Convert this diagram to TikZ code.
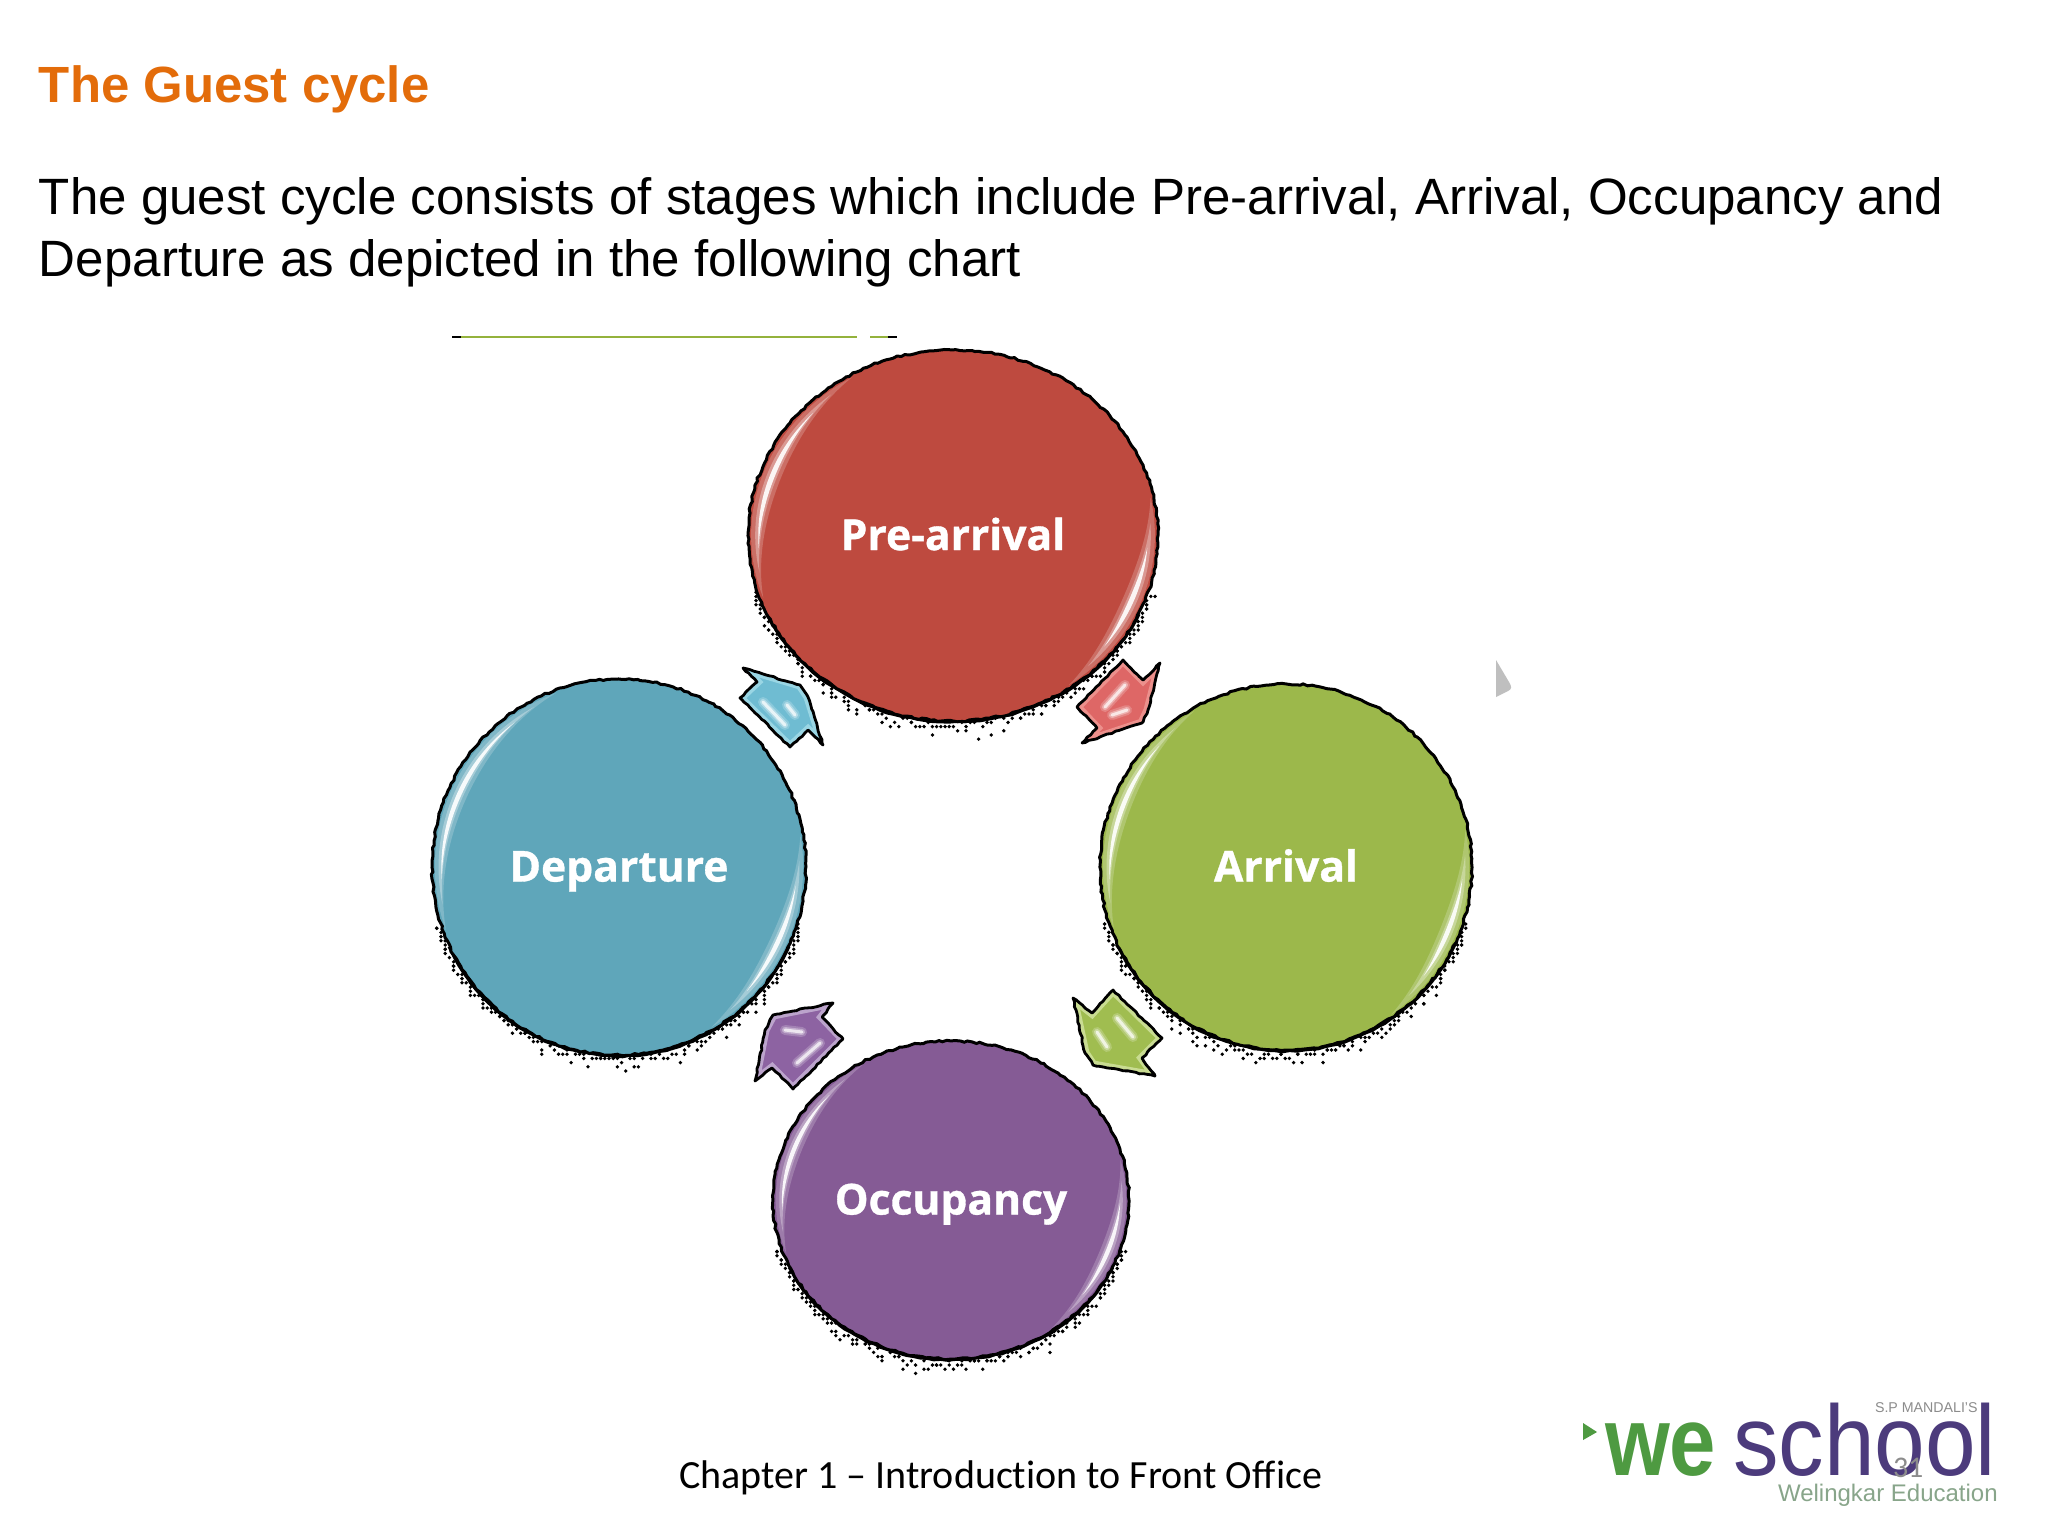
\documentclass[tikz,border=0pt]{standalone}
\usepackage{fontspec}
\setmainfont{Liberation Sans}
\newfontfamily\carl[Ligatures=NoCommon]{Carlito}
\newfontfamily\stagefont[BoldFeatures={FakeBold=0.8}]{Open Sans}
\usetikzlibrary{shapes.geometric,decorations.pathmorphing}
\definecolor{orangetitle}{HTML}{E36C0A}
\definecolor{redb}{HTML}{BE4A3F}\definecolor{redr}{HTML}{E8988E}
\definecolor{greenb}{HTML}{9CB84B}\definecolor{greenr}{HTML}{CFE09A}
\definecolor{blueb}{HTML}{5FA6BA}\definecolor{bluer}{HTML}{A4D8E6}
\definecolor{purpb}{HTML}{855B95}\definecolor{purpr}{HTML}{C4ACD2}
\definecolor{arblue}{HTML}{6FBCD2}\definecolor{arbluer}{HTML}{9AD6E4}
\definecolor{arred}{HTML}{DE6766}\definecolor{arredr}{HTML}{EC908C}
\definecolor{argreen}{HTML}{A0BD50}\definecolor{argreenr}{HTML}{C9DC92}
\definecolor{arpurp}{HTML}{8D63A2}\definecolor{arpurpr}{HTML}{BCA4CC}
\definecolor{weGreen}{HTML}{4E9A41}\definecolor{schoolPurple}{HTML}{4C3B7C}
\definecolor{rulegreen}{HTML}{94B23C}\definecolor{welGrey}{HTML}{88A58A}
\pgfdeclareradialshading{redsh}{\pgfpoint{0bp}{0bp}}{color(0bp)=(redb);color(45.5bp)=(redb);color(50bp)=(redr)}
\pgfdeclareradialshading{greensh}{\pgfpoint{0bp}{0bp}}{color(0bp)=(greenb);color(45.5bp)=(greenb);color(50bp)=(greenr)}
\pgfdeclareradialshading{bluesh}{\pgfpoint{0bp}{0bp}}{color(0bp)=(blueb);color(45.5bp)=(blueb);color(50bp)=(bluer)}
\pgfdeclareradialshading{purpsh}{\pgfpoint{0bp}{0bp}}{color(0bp)=(purpb);color(45.5bp)=(purpb);color(50bp)=(purpr)}
\tikzset{
  x=0.5pt,y=-0.5pt,
  stage/.style={ellipse,inner sep=0pt,draw=black,line width=1.5pt,shade,
    decorate,decoration={random steps,segment length=2pt,amplitude=0.45pt},
    text=white,font=\stagefont\bfseries\fontsize{21.3}{24}\selectfont,
    text height=16pt,text depth=1.5pt},
  rough/.style={draw=black,line width=1.4pt,line join=round,
    decorate,decoration={random steps,segment length=2pt,amplitude=0.35pt}},
  txt/.style={anchor=base west,inner sep=0pt,outer sep=0pt},
}
% tapered crescent: cx cy rx ry from to k w opacity
\newcommand\crescent[9]{%
  \fill[white,opacity=#9]
    plot[domain=#5:#6,samples=40] ({#1+#3*#7*cos(\x)},{#2+#4*#7*sin(\x)})
    -- plot[domain=#6:#5,samples=40]
      ({#1+#3*(#7-#8*sin(180*(\x-(#5))/(#6-(#5))))*cos(\x)},{#2+#4*(#7-#8*sin(180*(\x-(#5))/(#6-(#5))))*sin(\x)})
    -- cycle;}
% glint along a stage rim: cx cy rx ry from to
\newcommand\glint[6]{%
  \pgfmathsetmacro\ga{#5+8}\pgfmathsetmacro\gb{#6-8}%
  \pgfmathsetmacro\gc{#5+16}\pgfmathsetmacro\gd{#6-16}%
  \crescent{#1}{#2}{#3}{#4}{#5}{#6}{.985}{.09}{.2}%
  \crescent{#1}{#2}{#3}{#4}{\ga}{\gb}{.965}{.05}{.3}%
  \crescent{#1}{#2}{#3}{#4}{\gc}{\gd}{.95}{.024}{.9}%
}
% specks (on a 4.2 px grid) and heavier outline under a stage rim: cx cy rx ry seed
\newcommand\speck[5]{%
  \pgfmathsetseed{#5}%
  \foreach \a in {18,19,...,162}{%
    \pgfmathsetmacro\d{3+rnd*rnd*17*(0.15+0.85*sin(\a)*sin(\a))}%
    \pgfmathsetmacro\px{round((#1+(#3+\d)*cos(\a))/4.2)*4.2}%
    \pgfmathsetmacro\py{round((#2+(#4+\d)*sin(\a))/4.2)*4.2}%
    \fill[black] (\px,\py) circle (1.9);
  }%
  \draw[draw=black,line width=1.4pt,line join=round] plot[domain=25:155,samples=60] ({#1+(#3+(0.5+rnd*1.5)*sin(\x))*cos(\x)},{#2+(#4+(0.5+rnd*1.5)*sin(\x))*sin(\x)});
}
% block arrow: fill, rim, points
\newcommand\blockarrow[3]{%
  \begin{scope}
    \clip plot coordinates {#3} -- cycle;
    \fill[#1] plot coordinates {#3} -- cycle;
    \draw[#2,line width=4.5pt] plot coordinates {#3} -- cycle;
  \end{scope}
  \draw[rough] plot coordinates {#3} -- cycle;
}
\newcommand\flick[4]{%
  \draw[white,opacity=.2,line width=5pt,line cap=round] (#1,#2) -- (#3,#4);
  \draw[white,opacity=.35,line width=3pt,line cap=round] (#1,#2) -- (#3,#4);
  \draw[white,opacity=.7,line width=1.5pt,line cap=round] (#1,#2) -- (#3,#4);
}
\begin{document}
\begin{tikzpicture}
\useasboundingbox (0,0) rectangle (2048,1536);
\fill[white] (0,0) rectangle (2048,1536);

% heading and body text
\node[txt,text=orangetitle,font=\bfseries\fontsize{25.45}{30}\selectfont] (title) at (39,103) {The Guest cycle};
\node[txt,font=\fontsize{25.53}{31}\selectfont] (line1) at (39,214.5) {The guest cycle consists of stages which include Pre-arrival, Arrival, Occupancy and};
\node[txt,font=\fontsize{25.53}{31}\selectfont] (line2) at (39,276.5) {Departure as depicted in the following chart};

% stray green rule
\draw[rulegreen,line width=1.2pt] (461,337) -- (857,337) (870,337) -- (888,337);
\draw[black,line width=1.4pt] (452,337) -- (461,337) (888,337) -- (897,337);

% grey wedge
\fill[black!25] (1496,660) -- (1509,682) .. controls (1512,687) and (1512,689) .. (1508,691) -- (1496,697) -- cycle;

% specks
\speck{953}{535.5}{205}{185.5}{11}
\speck{1286}{867}{186}{183}{12}
\speck{619}{867}{187}{188}{13}
\speck{951}{1200}{178}{159}{14}

% stages
\pgfmathsetseed{5}
\node[stage,shading=redsh,minimum width=205pt,minimum height=185.5pt] (pre) at (953,535.5) {Pre-arrival};
\node[stage,shading=greensh,minimum width=186pt,minimum height=183pt] (arr) at (1286,867) {Arrival};
\node[stage,shading=bluesh,minimum width=187pt,minimum height=188pt] (dep) at (619,867) {Departure};
\node[stage,shading=purpsh,minimum width=178pt,minimum height=159pt] (occ) at (951,1200) {Occupancy};

% glints
\glint{953}{535.5}{205}{185.5}{160}{240}
\glint{953}{535.5}{205}{185.5}{-12}{55}
\glint{1286}{867}{186}{183}{160}{240}
\glint{1286}{867}{186}{183}{-12}{55}
\glint{619}{867}{187}{188}{160}{250}
\glint{619}{867}{187}{188}{-10}{60}
\glint{951}{1200}{178}{159}{160}{240}
\glint{951}{1200}{178}{159}{-15}{55}

% arrows
\blockarrow{arblue}{arbluer}{(743,668)(800,685)(808,697)(823,745)(808,730)(790,747)(740,698)(757,682)}
\flick{763}{702}{785}{725}\flick{787}{705}{795}{715}
\blockarrow{arred}{arredr}{(1123,660)(1143,680)(1160,663)(1148,710)(1142,723)(1082,743)(1097,728)(1077,707)}
\flick{1105}{707}{1125}{685}\flick{1112}{715}{1127}{710}
\blockarrow{argreen}{argreenr}{(1073,998)(1092,1013)(1113,990)(1162,1038)(1142,1058)(1155,1076)(1093,1065)(1085,1053)}
\flick{1117}{1018}{1133}{1037}\flick{1097}{1032}{1107}{1047}
\blockarrow{arpurp}{arpurpr}{(833,1003)(822,1017)(843,1039)(793,1089)(772,1068)(755,1081)(765,1030)(773,1015)}
\flick{785}{1030}{802}{1032}\flick{797}{1063}{820}{1043}

% footer
\node[txt,font=\carl\fontsize{20}{22}\selectfont] (foot) at (679,1488) {Chapter 1 – Introduction to Front Office};

% logo
\fill[weGreen] (1583,1423) -- (1597,1432) -- (1583,1440) -- cycle;
\node[txt,text=weGreen,font=\bfseries\fontsize{49}{50}\selectfont] (we) at (1605,1475) {\scalebox{.85}[1]{we}};
\node[txt,text=schoolPurple,font=\fontsize{50}{52}\selectfont] (school) at (1733,1475) {\scalebox{.91}[1]{school}};
\node[txt,text=black!45,font=\fontsize{7.1}{8}\selectfont] (mandali) at (1875,1412) {S.P MANDALI'S};
\node[txt,text=welGrey,font=\fontsize{12}{14}\selectfont] (weling) at (1778,1501) {Welingkar Education};
\node[txt,text=black!45,font=\carl\fontsize{15}{18}\selectfont] (page) at (1893,1477) {31};
\end{tikzpicture}
\end{document}
